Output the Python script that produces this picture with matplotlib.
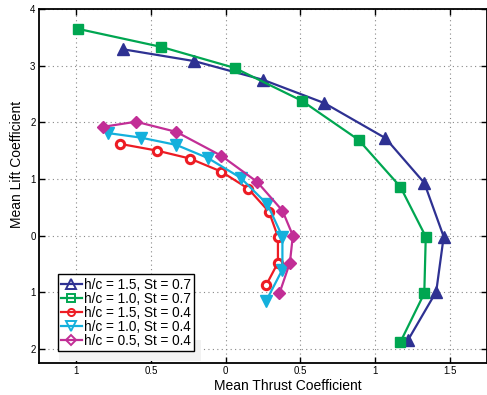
import matplotlib
matplotlib.use("Agg")
import matplotlib.pyplot as plt
from matplotlib.lines import Line2D
from matplotlib.patches import Rectangle

plt.rcParams["font.family"] = ["Liberation Sans", "DejaVu Sans"]

# Dados (empuxo médio x sustentação média)
thrust_15_07 = [-0.69, -0.21, 0.25, 0.66, 1.07, 1.33, 1.46, 1.41, 1.22]
lift_15_07 = [3.29, 3.08, 2.75, 2.34, 1.72, 0.93, -0.02, -0.99, -1.85]

thrust_10_07 = [-0.99, -0.43, 0.06, 0.51, 0.89, 1.17, 1.34, 1.33, 1.17]
lift_10_07 = [3.65, 3.33, 2.96, 2.38, 1.69, 0.86, -0.02, -1.02, -1.88]

thrust_15_04 = [-0.71, -0.46, -0.24, -0.03, 0.15, 0.29, 0.35, 0.35, 0.27]
lift_15_04 = [1.62, 1.50, 1.36, 1.13, 0.83, 0.42, -0.02, -0.48, -0.88]

thrust_10_04 = [-0.79, -0.57, -0.33, -0.12, 0.10, 0.28, 0.38, 0.38, 0.27]
lift_10_04 = [1.81, 1.73, 1.60, 1.37, 1.02, 0.55, -0.02, -0.60, -1.16]

thrust_05_04 = [-0.82, -0.60, -0.33, -0.03, 0.21, 0.38, 0.45, 0.43, 0.36]
lift_05_04 = [1.92, 2.01, 1.83, 1.41, 0.95, 0.44, 0.00, -0.48, -1.02]

labels = ["h/c = 1.5, St = 0.7", "h/c = 1.0, St = 0.7", "h/c = 1.5, St = 0.4",
          "h/c = 1.0, St = 0.4", "h/c = 0.5, St = 0.4"]

xticks = [-1, -0.5, 0, 0.5, 1, 1.5]
xtick_labels = ["1", "0.5", "0", "0.5", "1", "1.5"]  # sinais de menos ausentes no original
yticks = [4, 3, 2, 1, 0, -1, -2]
ytick_labels = ["4", "3", "2", "1", "0", "1", "2"]

# Estilos de cada série
styles = [
    dict(color="#2e3192", marker="^", ms=8.5),
    dict(color="#00a651", marker="s", ms=6.5),
    dict(color="#ed1c24", marker="o", ms=6, mfc="white", mew=2.2),
    dict(color="#14b0dc", marker="v", ms=8),
    dict(color="#c22e96", marker="D", ms=6.5),
]
series = [(thrust_15_07, lift_15_07), (thrust_10_07, lift_10_07),
          (thrust_15_04, lift_15_04), (thrust_10_04, lift_10_04),
          (thrust_05_04, lift_05_04)]

fig = plt.figure(figsize=(4.87, 3.95), dpi=100)
ax = fig.add_axes([39 / 487, 1 - 363 / 395, 448 / 487, 354 / 395])

for (x, y), st in zip(series, styles):
    ax.plot(x, y, lw=1.6, **st)

ax.set_xlim(-1.25, 1.75)
ax.set_ylim(-2.25, 4)
ax.set_xticks(xticks)
ax.set_xticklabels(xtick_labels)
ax.set_yticks(yticks)
ax.set_yticklabels(ytick_labels)
ax.tick_params(direction="in", top=True, right=True, length=4, width=1,
               labelsize=7, pad=2.5)
ax.grid(True, linestyle=(0, (1, 3)), color="#888888", linewidth=0.8)
for sp in ax.spines.values():
    sp.set_linewidth(1.3)

ax.set_xlabel("Mean Thrust Coefficient", fontsize=10)
ax.set_ylabel("Mean Lift Coefficient", fontsize=10)
ax.xaxis.set_label_coords(0.556, -0.046)
ax.yaxis.set_label_coords(-0.033, 0.56)

# Legenda com marcadores vazados
handles = [Line2D([], [], color=st["color"], marker=st["marker"], lw=1.6,
                  ms=st["ms"] * 0.85, mfc="none", mew=1.4) for st in styles]
# sombra cinza sob a legenda
ax.add_patch(Rectangle((0.045, 0.005), 0.317, 0.06, transform=ax.transAxes,
                       facecolor="#f2f2f2", edgecolor="none", zorder=2))
leg = ax.legend(handles, labels, loc="lower left", bbox_to_anchor=(0.042, 0.034),
                fontsize=9.8, handlelength=1.5, handletextpad=0.15,
                labelspacing=0.0, borderpad=0.25, borderaxespad=0,
                fancybox=False, framealpha=1, edgecolor="black")
leg.get_frame().set_linewidth(1.0)
leg.set_zorder(5)

fig.savefig("out.png", dpi=100)
